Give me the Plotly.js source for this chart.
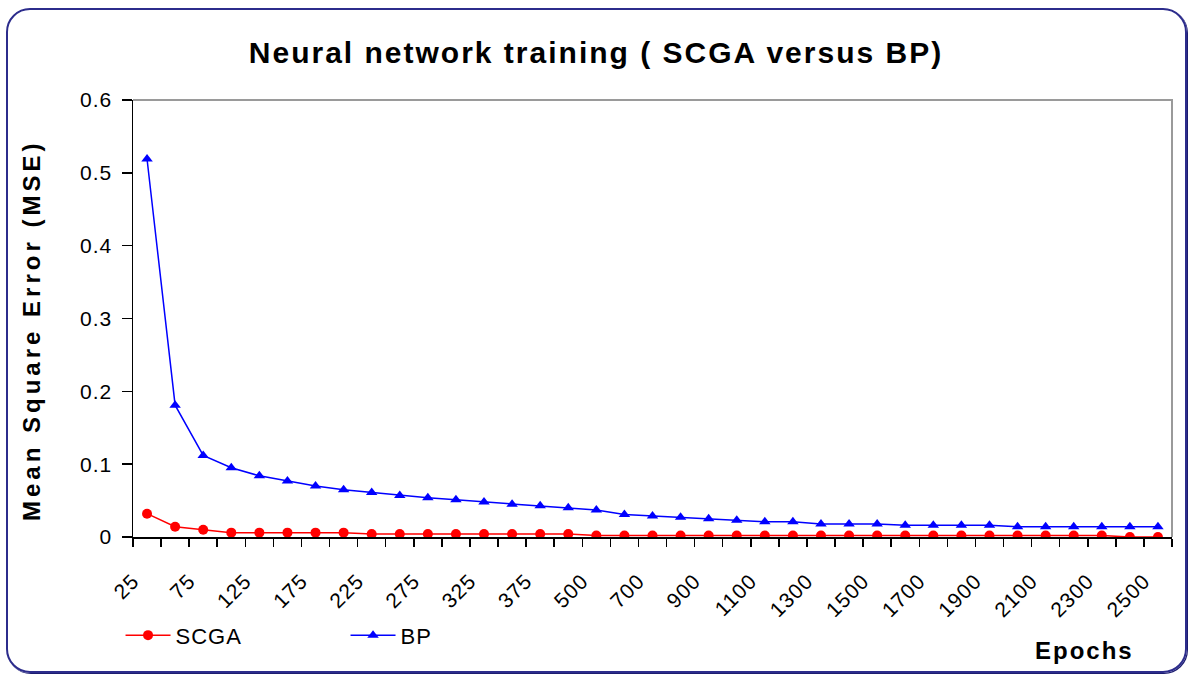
<!DOCTYPE html>
<html>
<head>
<meta charset="utf-8">
<script src="https://cdn.plot.ly/plotly-3.0.1.min.js"></script>
<style>
  html, body { margin: 0; padding: 0; background: #ffffff; }
  #wrap { position: relative; width: 1192px; height: 675px; }
  #chart { width: 1192px; height: 675px; }
  #frame {
    position: absolute; left: 6px; top: 8px; width: 1181px; height: 665px;
    box-sizing: border-box; border: 2px solid #2c2c8c; border-radius: 24px;
    box-shadow: 1px 1px 0 #1c1c70; pointer-events: none;
  }
  #chart .gtitle { letter-spacing: 2px; }
  #chart .annotation-text { letter-spacing: 2px; }
  #chart .annotation[data-index="0"] .annotation-text { letter-spacing: 4px; }
  #chart .legendtext { letter-spacing: 1px; }
  #chart .ytick text, #chart .xtick text { letter-spacing: 1px; }
</style>
</head>
<body>
<div id="wrap">
  <div id="chart"></div>
  <div id="frame"></div>
</div>
<script>
// Epoch categories (x axis)
const epochs = ['25','50','75','100','125','150','175','200','225','250','275','300','325','350','375','400',
                '500','600','700','800','900','1000','1100','1200','1300','1400','1500','1600','1700','1800',
                '1900','2000','2100','2200','2300','2400','2500'];

// Mean square error, SCGA
const scga = [0.032,0.014,0.010,0.006,0.006,0.006,0.006,0.006,0.004,0.004,0.004,0.004,0.004,0.004,0.004,0.004,
              0.002,0.002,0.002,0.002,0.002,0.002,0.002,0.002,0.002,0.002,0.002,0.002,0.002,0.002,
              0.002,0.002,0.002,0.002,0.002,0.000,0.000];

// Mean square error, BP
const bp = [0.519,0.181,0.112,0.095,0.084,0.077,0.070,0.065,0.061,0.057,0.054,0.051,0.048,0.045,0.043,0.040,
            0.037,0.031,0.029,0.027,0.025,0.023,0.021,0.021,0.018,0.018,0.018,0.016,0.016,0.016,
            0.016,0.014,0.014,0.014,0.014,0.014,0.014];

// Tick labels: every other category is labelled
const tickLabels = epochs.map((e, i) => (i % 2 === 0 ? e : ''));

const FONT = 'Arial, "Liberation Sans", sans-serif';

const traces = [
  {
    type: 'scatter', mode: 'lines+markers', name: 'SCGA',
    x: epochs, y: scga,
    line: { color: '#ff0000', width: 1.5 },
    marker: { symbol: 'circle', size: 10, color: '#ff0000' }
  },
  {
    type: 'scatter', mode: 'lines+markers', name: 'BP',
    x: epochs, y: bp,
    line: { color: '#0000ff', width: 1.5 },
    marker: { symbol: 'triangle-up', size: 10, color: '#0000ff' }
  }
];

const layout = {
  width: 1192, height: 675,
  paper_bgcolor: '#ffffff', plot_bgcolor: '#ffffff',
  margin: { l: 133, r: 20, t: 100, b: 138, pad: 0 },
  font: { family: FONT, color: '#000000' },
  title: {
    text: 'Neural network training ( SCGA versus BP)',
    font: { family: FONT, size: 30, color: '#000000', weight: 'bold' },
    x: 0.5, xanchor: 'center', xref: 'container',
    y: 1 - 52 / 675, yref: 'container', yanchor: 'middle'
  },
  showlegend: true,
  legend: {
    orientation: 'h', x: -0.012, xanchor: 'left', y: -0.225, yanchor: 'middle',
    font: { family: FONT, size: 22, color: '#000000' },
    itemwidth: 45, entrywidth: 165, entrywidthmode: 'pixels',
    bgcolor: 'rgba(0,0,0,0)', borderwidth: 0
  },
  xaxis: {
    type: 'category',
    tickmode: 'array', tickvals: epochs, ticktext: tickLabels,
    tickson: 'boundaries',
    ticks: 'outside', ticklen: 8, tickwidth: 1.5, tickcolor: '#000000',
    tickangle: -45,
    tickfont: { family: FONT, size: 21, color: '#000000' },
    ticklabelstandoff: 22,
    ticklabelshift: -14,
    showline: true, linecolor: '#000000', linewidth: 1.5,
    showgrid: false, zeroline: false,
    range: [-0.5, epochs.length - 0.5],
    automargin: false
  },
  yaxis: {
    range: [0, 0.6], dtick: 0.1, tick0: 0,
    ticks: 'outside', ticklen: 10, tickwidth: 1.5, tickcolor: '#000000',
    tickfont: { family: FONT, size: 21, color: '#000000' },
    ticklabelstandoff: 5,
    showline: true, linecolor: '#000000', linewidth: 1.5,
    showgrid: false, zeroline: false,
    automargin: false
  },
  shapes: [
    {
      type: 'path', xref: 'paper', yref: 'paper',
      path: 'M 0 1 L 1 1 L 1 0',
      line: { color: '#9a9a9a', width: 2 }
    }
  ],
  annotations: [
    {
      text: 'Mean Square Error (MSE)', xref: 'paper', yref: 'paper',
      x: (31 - 133) / 1039, y: (537 - 331) / 437, textangle: -90,
      xanchor: 'center', yanchor: 'middle', showarrow: false,
      font: { family: FONT, size: 24, color: '#000000', weight: 'bold' }
    },
    {
      text: 'Epochs', xref: 'paper', yref: 'paper',
      x: (1084 - 133) / 1039, y: (537 - 650) / 437,
      xanchor: 'center', yanchor: 'middle', showarrow: false,
      font: { family: FONT, size: 24, color: '#000000', weight: 'bold' }
    }
  ]
};

Plotly.newPlot('chart', traces, layout, { displayModeBar: false, staticPlot: true });
</script>
</body>
</html>
